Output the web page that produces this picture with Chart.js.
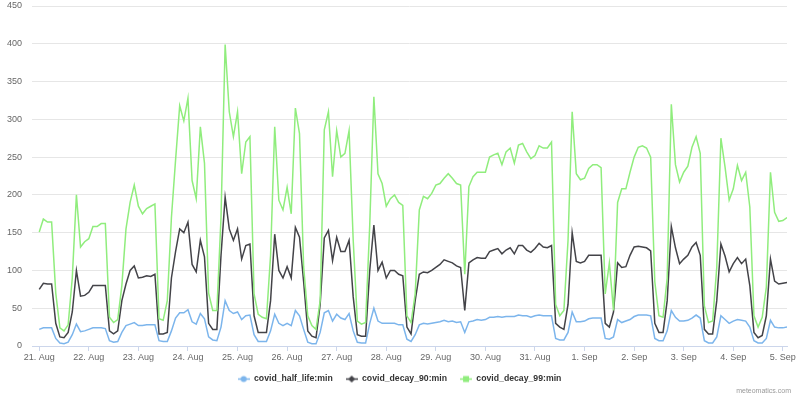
<!DOCTYPE html>
<html>
<head>
<meta charset="utf-8">
<script src="https://cdn.jsdelivr.net/npm/chart.js@4/dist/chart.umd.min.js"></script>
<style>
  html, body { margin: 0; padding: 0; background: #fff; }
  #wrap { width: 800px; height: 397px; position: relative; }
</style>
</head>
<body>
<div id="wrap"><canvas id="grafico"></canvas></div>
<script>
// etiquetas del eje x (un tick cada 24 h desde 21. Aug 00:00)
const dayLabels = ['21. Aug', '22. Aug', '23. Aug', '24. Aug', '25. Aug', '26. Aug', '27. Aug', '28. Aug',
  '29. Aug', '30. Aug', '31. Aug', '1. Sep', '2. Sep', '3. Sep', '4. Sep', '5. Sep'];
const yTicks = [0, 50, 100, 150, 200, 250, 300, 350, 400, 450];
const stepHours = 2; // un valor cada 2 horas

const seriesNames = ['covid_half_life:min', 'covid_decay_90:min', 'covid_decay_99:min'];

// covid_half_life:min
const halfLife = [
  22, 24, 24, 24, 10, 4, 3, 5, 15, 29, 19, 20,
  22, 24, 24, 24, 23, 7, 5, 6, 18, 27, 29, 31,
  27, 27, 28, 28, 28, 7, 6, 6, 20, 37, 44, 44,
  48, 32, 29, 43, 36, 12, 8, 7, 25, 60, 47, 43,
  45, 35, 40, 41, 15, 6, 6, 6, 20, 42, 30, 27,
  30, 27, 47, 40, 22, 5, 3, 3, 18, 44, 47, 33,
  42, 37, 35, 43, 20, 5, 4, 4, 30, 50, 33, 30,
  30, 30, 30, 28, 28, 9, 6, 15, 28, 30, 29, 30,
  31, 32, 34, 32, 33, 31, 32, 18, 32, 33, 35, 34,
  35, 38, 38, 39, 38, 39, 39, 39, 41, 40, 40, 38,
  40, 41, 40, 40, 40, 10, 8, 8, 18, 45, 32, 32,
  33, 36, 37, 37, 37, 10, 9, 12, 35, 31, 33, 35,
  39, 41, 41, 41, 40, 10, 7, 7, 20, 47, 38, 33,
  33, 34, 37, 41, 37, 7, 4, 4, 12, 40, 35, 30,
  33, 35, 34, 33, 25, 7, 4, 4, 10, 34, 25, 24,
  24, 25
];

// covid_decay_90:min
const decay90 = [
  75, 83, 82, 82, 30, 12, 11, 18, 45, 100, 66, 67,
  71, 80, 80, 80, 80, 20, 16, 20, 60, 82, 100, 106,
  90, 91, 93, 92, 95, 16, 16, 18, 90, 125, 155, 150,
  164, 108, 98, 140, 118, 30, 22, 22, 120, 197, 155, 140,
  155, 115, 133, 135, 40, 18, 18, 18, 60, 148, 100, 90,
  105, 90, 157, 144, 85, 20, 13, 11, 55, 143, 153, 113,
  144, 125, 125, 140, 65, 15, 13, 13, 100, 160, 100, 111,
  90, 100, 100, 95, 93, 25, 16, 60, 95, 98, 97, 100,
  104, 108, 114, 112, 110, 106, 104, 47, 110, 114, 117, 116,
  116, 125, 127, 129, 122, 127, 130, 122, 133, 133, 127, 124,
  129, 136, 131, 130, 133, 30, 25, 22, 55, 150, 112, 110,
  112, 120, 120, 120, 120, 30, 25, 45, 110, 104, 105, 120,
  131, 132, 131, 130, 126, 30, 18, 18, 60, 158, 130, 109,
  115, 120, 131, 137, 120, 22, 16, 16, 60, 135, 119, 98,
  109, 117, 109, 115, 80, 18, 11, 14, 40, 115, 86, 82,
  83, 84
];

// covid_decay_99:min
const decay99 = [
  151, 168, 164, 164, 70, 24, 20, 28, 90, 200, 131, 138,
  142, 158, 158, 162, 162, 38, 31, 35, 80, 155, 190, 213,
  185, 175, 182, 185, 188, 36, 34, 60, 170, 246, 318, 298,
  328, 219, 195, 290, 242, 70, 47, 47, 170, 399, 310, 277,
  310, 228, 270, 277, 69, 42, 38, 36, 120, 290, 193, 180,
  210, 175, 315, 281, 105, 40, 27, 22, 60, 286, 310, 224,
  285, 250, 255, 285, 140, 33, 29, 31, 160, 330, 228, 215,
  185, 195, 200, 190, 186, 40, 31, 69, 180, 198, 195, 202,
  213, 215, 222, 228, 222, 215, 213, 95, 211, 224, 230, 230,
  230, 250, 253, 255, 240, 257, 262, 242, 266, 268, 257, 248,
  252, 265, 262, 262, 270, 55, 40, 47, 140, 310, 228, 220,
  222, 235, 240, 240, 236, 69, 110, 47, 190, 208, 208, 230,
  250, 263, 265, 262, 250, 85, 40, 38, 90, 320, 240, 217,
  230, 238, 263, 277, 255, 53, 31, 33, 104, 275, 237, 193,
  208, 239, 219, 230, 184, 40, 25, 38, 78, 230, 177, 165,
  166, 170
];

const colores = ['#7cb5ec', '#434348', '#90ed7d'];
const marcadores = ['circle', 'diamond', 'square'];
const fuente = '"Liberation Sans", Arial, Helvetica, sans-serif';

function simboloLeyenda(color, tipo) {
  const c = document.createElement('canvas');
  c.width = 12;
  c.height = 9;
  const g = c.getContext('2d');
  g.strokeStyle = color;
  g.lineWidth = 1.5;
  g.beginPath();
  g.moveTo(0, 4.5);
  g.lineTo(12, 4.5);
  g.stroke();
  g.fillStyle = color;
  g.beginPath();
  if (tipo === 'circle') {
    g.arc(6, 4.5, 3, 0, Math.PI * 2);
  } else if (tipo === 'diamond') {
    g.moveTo(6, 1); g.lineTo(9.5, 4.5); g.lineTo(6, 8); g.lineTo(2.5, 4.5);
  } else {
    g.rect(3, 1.5, 6, 6);
  }
  g.fill();
  return c;
}

function puntos(valores) {
  return valores.map((v, i) => ({ x: i * stepHours, y: v }));
}

// texto de creditos abajo a la derecha + leyenda un poco a la derecha
const creditos = {
  id: 'creditos',
  afterLayout(chart) {
    chart.legend.left += 12;
  },
  afterDraw(chart) {
    const ctx = chart.ctx;
    ctx.save();
    ctx.font = '7px ' + fuente;
    ctx.fillStyle = '#999999';
    ctx.textAlign = 'right';
    ctx.textBaseline = 'middle';
    ctx.fillText('meteomatics.com', 791, 391);
    ctx.restore();
  }
};

const series = [halfLife, decay90, decay99];

new Chart(document.getElementById('grafico'), {
  type: 'line',
  data: {
    datasets: series.map((valores, k) => ({
      label: seriesNames[k],
      data: puntos(valores),
      borderColor: colores[k],
      backgroundColor: colores[k],
      borderWidth: 1.5,
      pointRadius: 0,
      pointHoverRadius: 0,
      pointStyle: simboloLeyenda(colores[k], marcadores[k]),
      tension: 0,
      order: 3 - k
    }))
  },
  options: {
    responsive: true,
    maintainAspectRatio: false,
    animation: false,
    events: [],
    layout: { padding: { top: 6, right: 13, bottom: 3.6, left: 0 } },
    scales: {
      x: {
        type: 'linear',
        min: -3.5,
        max: 362,
        afterBuildTicks: (axis) => {
          axis.ticks = dayLabels.map((l, i) => ({ value: i * 24 }));
        },
        afterFit: (scale) => { scale.height = 15.7; },
        ticks: {
          autoSkip: false,
          maxRotation: 0,
          padding: 1,
          color: '#666666',
          font: { family: fuente, size: 9 },
          callback: (value) => dayLabels[Math.round(value / 24)]
        },
        grid: {
          drawOnChartArea: false,
          drawTicks: true,
          tickLength: 5,
          color: '#ccd6eb'
        },
        border: { display: true, color: '#ccd6eb', width: 1 }
      },
      y: {
        min: 0,
        max: 450,
        afterBuildTicks: (axis) => {
          axis.ticks = yTicks.map(v => ({ value: v }));
        },
        afterFit: (scale) => {
          scale.width = 32;
          scale.paddingTop = 0;
          scale.paddingBottom = 0;
        },
        ticks: {
          padding: 10,
          color: '#666666',
          font: { family: fuente, size: 9 }
        },
        grid: { color: '#e6e6e6', drawTicks: false },
        border: { display: false }
      }
    },
    plugins: {
      legend: {
        position: 'bottom',
        labels: {
          usePointStyle: true,
          pointStyleWidth: 12,
          padding: 13,
          color: '#333333',
          font: { family: fuente, size: 8.7, weight: 'bold' },
          sort: (a, b) => a.datasetIndex - b.datasetIndex
        }
      },
      tooltip: { enabled: false }
    }
  },
  plugins: [creditos]
});
</script>
</body>
</html>
